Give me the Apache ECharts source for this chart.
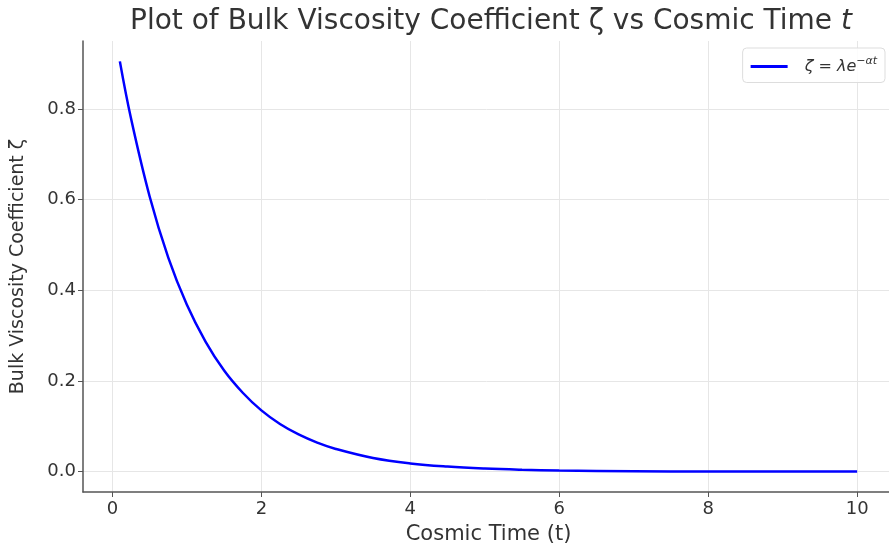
<!DOCTYPE html>
<html>
<head>
<meta charset="utf-8">
<script src="https://cdn.jsdelivr.net/npm/echarts@6/dist/echarts.min.js"></script>
<style>
html,body{margin:0;padding:0;background:#fff;}
#chart{width:889px;height:548px;}
</style>
</head>
<body>
<div id="chart"></div>
<script>
// Cosmic time values (x)
var times = [0.1, 0.25, 0.5, 0.75, 1.0, 1.25, 1.5, 1.75, 2.0, 2.25, 2.5, 2.75, 3.0, 3.5, 4.0, 4.5, 5.0, 5.5, 6.0, 7.0, 8.0, 9.0, 10.0];
// Bulk viscosity coefficient values (y)
var zeta = [0.905, 0.779, 0.607, 0.472, 0.368, 0.287, 0.223, 0.174, 0.135, 0.105, 0.082, 0.064, 0.050, 0.030, 0.018, 0.011, 0.0067, 0.0041, 0.0025, 0.0009, 0.0003, 0.0001, 0.00005];
var xTicks = [0, 2, 4, 6, 8, 10];
var yTicks = [0.0, 0.2, 0.4, 0.6, 0.8];

var pts = times.map(function(t, i){ return [t, zeta[i]]; });
var font = 'DejaVu Sans';
var chart = echarts.init(document.getElementById('chart'), null, {renderer:'canvas'});
chart.setOption({
  backgroundColor: '#ffffff',
  animation: false,
  title: {
    text: 'Plot of Bulk Viscosity Coefficient ζ vs Cosmic Time {i|t}',
    left: 486, textAlign: 'center', top: 3,
    textStyle: {
      fontFamily: font, fontSize: 28, fontWeight: 'normal', color: '#333',
      rich: { i: { fontFamily: font, fontSize: 28, fontStyle: 'italic', color: '#333' } }
    }
  },
  grid: { left: 83, top: 41, right: -5, bottom: 56, containLabel: false, outerBoundsMode: 'none' },
  legend: {
    right: 4, top: 48,
    orient: 'vertical',
    backgroundColor: 'rgba(255,255,255,0.85)',
    borderColor: '#ddd', borderWidth: 1, borderRadius: 4,
    padding: [8, 8, 8, 8],
    itemWidth: 37, itemHeight: 3, itemGap: 4,
    icon: 'rect',
    data: [{ name: 'zeta' }],
    formatter: function(){ return '{a|ζ = λe}{s|−αt}'; },
    textStyle: {
      fontFamily: font, color: '#333', padding: [0, 0, 0, 12],
      rich: {
        a: { fontFamily: font, fontSize: 16, fontStyle: 'italic', color: '#333' },
        s: { fontFamily: font, fontSize: 11, fontStyle: 'italic', color: '#333', verticalAlign: 'top', padding: [0,0,10,0] }
      }
    }
  },
  xAxis: {
    type: 'value', min: -0.395, max: 10.495, interval: 2,
    name: 'Cosmic Time (t)', nameLocation: 'middle', nameGap: 32,
    nameTextStyle: { fontFamily: font, fontSize: 21, color: '#333' },
    axisLine: { show: true, onZero: false, lineStyle: { color: '#555', width: 1.5 } },
    axisTick: { show: true, length: 5, lineStyle: { color: '#555' }, customValues: xTicks },
    axisLabel: { fontFamily: font, fontSize: 18, color: '#333', margin: 8, customValues: xTicks,
      formatter: function(v){ return String(v); } },
    splitLine: { show: true, lineStyle: { color: '#e6e6e6', width: 1 } }
  },
  yAxis: {
    type: 'value', min: -0.045, max: 0.95,
    name: 'Bulk Viscosity Coefficient ζ', nameLocation: 'middle', nameGap: 55,
    nameTextStyle: { fontFamily: font, fontSize: 19, color: '#333' },
    axisLine: { show: true, onZero: false, lineStyle: { color: '#555', width: 1.5 } },
    axisTick: { show: true, length: 5, lineStyle: { color: '#555' }, customValues: yTicks },
    axisLabel: { fontFamily: font, fontSize: 18, color: '#333', margin: 7, customValues: yTicks,
      formatter: function(v){ return v.toFixed(1); } },
    splitLine: { show: true, lineStyle: { color: '#e6e6e6', width: 1 } }
  },
  series: [{
    name: 'zeta', type: 'line', data: pts, smooth: 0.4, showSymbol: false, symbol: 'none',
    lineStyle: { color: '#0000ff', width: 2.5 }, itemStyle: { color: '#0000ff' }
  }]
});
</script>
</body>
</html>
